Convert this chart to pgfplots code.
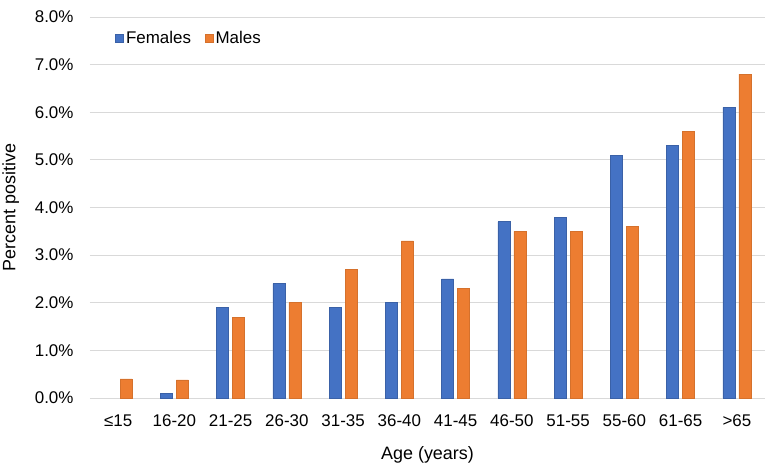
\documentclass[border=0pt]{standalone}
\usepackage{pgfplots}
\pgfplotsset{compat=1.18}
\usepackage{fontspec}
\setmainfont{Liberation Sans}
\definecolor{fblue}{HTML}{4472C4}
\definecolor{morange}{HTML}{ED7D31}
\definecolor{gridgray}{HTML}{D9D9D9}
\begin{document}
\begin{tikzpicture}
\begin{axis}[
  scale only axis,
  width=675bp, height=381bp,
  xmin=-0.5, xmax=11.5,
  ymin=0, ymax=8,
  ytick={0,1,...,8},
  yticklabel={\pgfmathprintnumber[fixed,fixed zerofill,precision=1]{\tick}\%},
  /pgf/number format/assume math mode=true,
  xtick={0,...,11},
  xticklabels={≤15,16-20,21-25,26-30,31-35,36-40,41-45,46-50,51-55,55-60,61-65,>65},
  ymajorgrids,
  grid style={gridgray, line width=1bp},
  axis lines*=left,
  x axis line style={draw=gridgray, line width=1bp, -},
  y axis line style={draw=none},
  major tick length=0pt,
  tick label style={font=\fontsize{17}{20}\selectfont},
  yticklabel style={xshift=-13bp},
  xticklabel style={yshift=-13bp},
  xlabel={Age (years)},
  ylabel={Percent positive},
  label style={font=\fontsize{18}{21}\selectfont},
  xlabel style={yshift=-13bp},
  ylabel style={yshift=9bp},
  ybar, bar width=12bp,
  legend style={at={(0.033,0.945)}, anchor=west, draw=none, fill=none,
    legend columns=-1, font=\fontsize{17}{20}\selectfont,
    /tikz/every even column/.append style={column sep=12bp}},
  legend image code/.code={\fill[#1] (0bp,-4bp) rectangle (8bp,4bp);},
]
\addplot[bar shift=-8bp, fill=fblue, draw=fblue!85!black, line width=0.6bp] coordinates {
 (1,0.1) (2,1.9) (3,2.4) (4,1.9) (5,2.0) (6,2.5) (7,3.7) (8,3.8) (9,5.1) (10,5.3) (11,6.1)};
\addplot[bar shift=8bp, fill=morange, draw=morange!90!black, line width=0.6bp] coordinates {
 (0,0.4) (1,0.38) (2,1.7) (3,2.0) (4,2.7) (5,3.3) (6,2.3) (7,3.5) (8,3.5) (9,3.6) (10,5.6) (11,6.8)};
\legend{Females,Males}
\end{axis}
\pgfresetboundingbox
\path (-90bp,-66bp) rectangle (675bp,398bp);
\end{tikzpicture}
\end{document}
